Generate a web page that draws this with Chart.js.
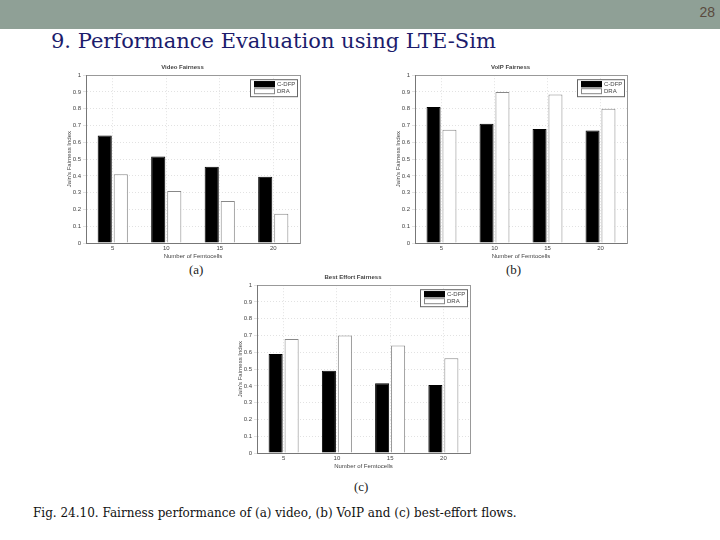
<!DOCTYPE html>
<html>
<head>
<meta charset="utf-8">
<script src="https://cdn.jsdelivr.net/npm/chart.js@4/dist/chart.umd.min.js"></script>
<style>
    body { margin: 0; width: 720px; height: 540px; background: #fff; position: relative; overflow: hidden; }
    #band { position: absolute; left: 0; top: 0; width: 720px; height: 29px; background: #8fa096; }
    #pageno { position: absolute; right: 5px; top: 4px; font: 14px "Liberation Sans", Arial, sans-serif; color: #5a4a3e; }
    #title { position: absolute; left: 51px; top: 29px; font: 21px "DejaVu Serif", serif; color: #1c1c6c; white-space: nowrap; }
    #caption { position: absolute; left: 33px; top: 506px; font: 12px "DejaVu Serif", serif; color: #111; white-space: nowrap; }
    .sub { position: absolute; font: 13px "Liberation Serif", serif; color: #222; }
    canvas { position: absolute; }
</style>
</head>
<body>
<div id="band"></div>
<div id="pageno">28</div>
<div id="title">9. Performance Evaluation using LTE-Sim</div>

<canvas id="video-fairness" width="248" height="198" style="left:57px;top:62px"></canvas>
<canvas id="voip-fairness" width="246" height="198" style="left:386px;top:62px"></canvas>
<canvas id="best-effort-fairness" width="247" height="198" style="left:228px;top:272px"></canvas>

<div class="sub" style="left:189px;top:262px">(a)</div>
<div class="sub" style="left:506px;top:262px">(b)</div>
<div class="sub" style="left:354px;top:479px">(c)</div>
<div id="caption">Fig. 24.10. Fairness performance of (a) video, (b) VoIP and (c) best-effort flows.</div>

<script>
// data
const femtocells = ['5', '10', '15', '20'];
const seriesNames = ['C-DFP', 'DRA'];

const videoCdfp = [0.64, 0.515, 0.455, 0.395];
const videoDra = [0.41, 0.31, 0.25, 0.175];

const voipCdfp = [0.81, 0.71, 0.68, 0.67];
const voipDra = [0.675, 0.90, 0.885, 0.80];

const bestEffortCdfp = [0.59, 0.49, 0.415, 0.405];
const bestEffortDra = [0.68, 0.70, 0.64, 0.565];

const tinyFont = { family: 'Liberation Sans, Arial, sans-serif', size: 6 };
const textColor = '#444';

// legend drawn inside the plot, top right, like matlab
const insideLegend = {
    id: 'insideLegend',
    afterDraw(chart) {
        const ctx = chart.ctx;
        const area = chart.chartArea;
        const w = 47, h = 17;
        const x = area.right - w - 3;
        const y = area.top + 4;
        ctx.save();
        ctx.fillStyle = '#fff';
        ctx.fillRect(x, y, w, h);
        ctx.strokeStyle = '#666';
        ctx.lineWidth = 1;
        ctx.strokeRect(x + 0.5, y + 0.5, w, h);
        ctx.font = '6px ' + tinyFont.family;
        ctx.textBaseline = 'middle';
        chart.data.datasets.forEach(function (ds, i) {
            const sy = y + 2 + i * 7;
            ctx.fillStyle = ds.backgroundColor;
            ctx.fillRect(x + 4, sy, 21, 6);
            ctx.strokeStyle = ds.borderColor;
            ctx.strokeRect(x + 4.5, sy + 0.5, 20, 5);
            ctx.fillStyle = textColor;
            ctx.fillText(ds.label, x + 27, sy + 3.5);
        });
        ctx.restore();
    }
};

function fairnessChart(id, title, cdfp, dra) {
    return new Chart(
        document.getElementById(id),
        {
            type: 'bar',
            data: {
                labels: femtocells,
                datasets: [
                    {
                        label: seriesNames[0],
                        data: cdfp,
                        backgroundColor: '#000',
                        borderColor: '#000',
                        borderWidth: 1
                    },
                    {
                        label: seriesNames[1],
                        data: dra,
                        backgroundColor: '#fff',
                        borderColor: '#888',
                        borderWidth: 1
                    }
                ]
            },
            options: {
                responsive: false,
                animation: false,
                categoryPercentage: 0.6,
                barPercentage: 0.88,
                layout: { padding: { right: 5, left: 8, top: 0, bottom: 0 } },
                plugins: {
                    legend: { display: false },
                    tooltip: { enabled: false },
                    title: {
                        display: true,
                        text: title,
                        color: textColor,
                        font: tinyFont,
                        padding: { top: 2, bottom: 4 }
                    }
                },
                scales: {
                    x: {
                        afterFit: function (scale) { scale.height = 17; },
                        grid: { color: '#e2e2e2', tickLength: 0, offset: false },
                        border: { color: '#777', dash: [1, 2] },
                        ticks: { color: textColor, font: tinyFont, padding: 2 },
                        title: { display: true, text: 'Number of Femtocells', color: textColor, font: tinyFont, padding: 0 }
                    },
                    x2: {
                        position: 'top',
                        afterFit: function (scale) { scale.height = 0; },
                        grid: { display: false },
                        border: { color: '#999' },
                        ticks: { display: false }
                    },
                    y: {
                        min: 0,
                        max: 1,
                        afterFit: function (scale) { scale.width = 21; },
                        grid: { color: '#e2e2e2', tickLength: 3 },
                        border: { color: '#777', dash: [1, 2] },
                        ticks: {
                            stepSize: 0.1,
                            color: textColor,
                            font: tinyFont,
                            padding: 2,
                            callback: function (v) { return Math.round(v * 10) / 10; }
                        },
                        title: { display: true, text: "Jain's Fairness Index", color: textColor, font: tinyFont, padding: 1 }
                    },
                    y2: {
                        position: 'right',
                        min: 0,
                        max: 1,
                        afterFit: function (scale) { scale.width = 0; },
                        grid: { display: false },
                        border: { color: '#999' },
                        ticks: { display: false }
                    }
                }
            },
            plugins: [insideLegend]
        }
    );
}

fairnessChart('video-fairness', 'Video Fairness', videoCdfp, videoDra);
fairnessChart('voip-fairness', 'VoIP Fairness', voipCdfp, voipDra);
fairnessChart('best-effort-fairness', 'Best Effort Fairness', bestEffortCdfp, bestEffortDra);
</script>
</body>
</html>
